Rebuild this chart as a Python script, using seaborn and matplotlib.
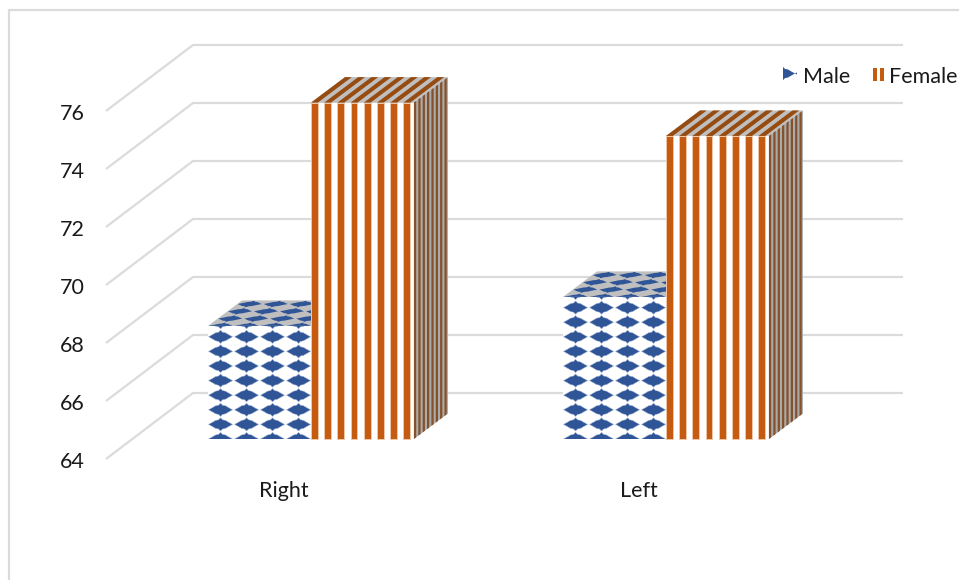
import numpy as np
import pandas as pd
import seaborn as sns
import matplotlib
matplotlib.use("Agg")
import matplotlib.pyplot as plt
from matplotlib.collections import PolyCollection
from matplotlib.lines import Line2D
from matplotlib.patches import Polygon, Rectangle

# Chart values
categories = ["Right", "Left"]
male_values = [67.9, 68.9]
female_values = [75.6, 74.45]
y_ticks = [64, 66, 68, 70, 72, 74, 76]
series_names = ["Male", "Female"]

# Palette
BLUE = "#2F5597"
ORANGE = "#C55A11"
TOP_GRAY = "#BFBFBF"
SIDE_GRAY = "#ABABAB"
TOP_BROWN = "#964B10"
SIDE_BROWN = "#85512A"
GRID = "#DBDBDB"
INK = "#1A1A1A"

sns.set_theme(style="white")
plt.rcParams["font.family"] = ["Lato", "DejaVu Sans"]

W, H = 959, 580
BASE = 64
PX_PER_CAT = 355.0
PX_PER_UNIT = 29.0
ORIGIN_X, ORIGIN_Y = 311.0, 439.0


def xd(px):
    return (px - ORIGIN_X) / PX_PER_CAT


def yd(py):
    return BASE + (ORIGIN_Y - py) / PX_PER_UNIT


# Oblique projection: how far the box depth and the walls shift on screen
DEPTH_X, DEPTH_Y = 34.0 / PX_PER_CAT, 25.5 / PX_PER_UNIT
WALL_FRONT_X, WALL_BACK_X, WALL_END_X = xd(106), xd(193), xd(903)
WALL_FRONT_DY = yd(459) - BASE
WALL_BACK_DY = yd(393) - BASE

# Texture scales
STRIPE_PERIOD, STRIPE_WIDTH = 13.2, 6.8
DIAMOND_DX, DIAMOND_DY = 26.0, 14.6
DIAMOND_SHAPE = np.array([
    (-12, 0), (-8, -2.2), (-5, -4), (-2, -4.6), (0, -6.6), (2, -4.6), (5, -4), (8, -2.2),
    (12, 0), (8, 2.2), (5, 4), (2, 4.6), (0, 6.6), (-2, 4.6), (-5, 4), (-8, 2.2),
])

df = pd.DataFrame({
    "side": categories * 2,
    "group": [series_names[0]] * 2 + [series_names[1]] * 2,
    "value": male_values + female_values,
})

fig = plt.figure(figsize=(W / 100, H / 100), dpi=100, facecolor="white")
ax = fig.add_axes([0, 0, 1, 1])
sns.barplot(
    data=df, x="side", y="value", hue="group", hue_order=series_names,
    order=categories, palette=["white", "white"], width=0.58, gap=0,
    linewidth=0, legend=False, ax=ax, zorder=3,
)
ax.set_xlim(xd(0), xd(W))
ax.set_ylim(yd(H), yd(0))
ax.axis("off")

# Chart frame, open on the right and at the bottom
fig.add_artist(Line2D([9.0 / W, 9.0 / W, 1], [0, 1 - 10.0 / H, 1 - 10.0 / H],
                      color=GRID, lw=1.6, transform=fig.transFigure))

# Back wall and side wall gridlines
for v in y_ticks:
    ax.plot([WALL_FRONT_X, WALL_BACK_X, WALL_END_X],
            [v + WALL_FRONT_DY, v + WALL_BACK_DY, v + WALL_BACK_DY],
            color=GRID, lw=1.6, zorder=1, solid_joinstyle="miter", solid_capstyle="butt")
    ax.text(xd(72.5), v + WALL_FRONT_DY - 2.5 / PX_PER_UNIT, str(v), ha="center", va="center",
            fontsize=15.5, color=INK)


def stripes(origin, u, v, extent, **style):
    """Vertical-band texture over the face spanned by u and v (u runs across the bands)."""
    polys = []
    n_bands = int(np.ceil(extent / STRIPE_PERIOD))
    for k in range(n_bands):
        t0 = min(k * STRIPE_PERIOD / extent, 1)
        t1 = min((k * STRIPE_PERIOD + STRIPE_WIDTH) / extent, 1)
        polys.append([origin + t0 * u, origin + t1 * u, origin + t1 * u + v, origin + t0 * u + v])
    ax.add_collection(PolyCollection(polys, **style))


def diamonds(origin, u, v, u_px, v_px, **style):
    """Diamond tiles on the face spanned by u and v; texture sizes are given in screen pixels."""
    face = Polygon([origin, origin + u, origin + u + v, origin + v], closed=True,
                   transform=ax.transData, facecolor="none", edgecolor="none")
    ax.add_patch(face)
    polys = []
    for i in range(int(v_px / DIAMOND_DY) + 2):
        for j in range(int(u_px / DIAMOND_DX) + 2):
            cu = 12.5 + j * DIAMOND_DX
            cv = i * DIAMOND_DY
            shape = DIAMOND_SHAPE + [cu, cv]
            polys.append([origin + p[0] / u_px * u + p[1] / v_px * v for p in shape])
    coll = PolyCollection(polys, **style)
    ax.add_collection(coll)
    coll.set_clip_path(face)


depth = np.array([DEPTH_X, DEPTH_Y])
for group_index, bars in enumerate(ax.containers):
    z = 4 + group_index
    for bar in bars:
        value = bar.get_height()
        bar.set_y(BASE)
        bar.set_height(value - BASE)
        bar.set_zorder(z)
        x0, w = bar.get_x(), bar.get_width()
        h = value - BASE
        front = np.array([x0, BASE], dtype=float)
        across = np.array([w, 0.0])
        rise = np.array([0.0, h])
        width_px = w * PX_PER_CAT
        height_px = h * PX_PER_UNIT
        top_origin = front + rise
        right_origin = front + across

        # Top and right faces share the front face's band count
        ax.add_patch(Polygon([top_origin, top_origin + across, top_origin + across + depth,
                              top_origin + depth], facecolor=TOP_GRAY, edgecolor="none", zorder=z))
        ax.add_patch(Polygon([right_origin, right_origin + depth, right_origin + depth + rise,
                              right_origin + rise], facecolor=SIDE_GRAY, edgecolor="none", zorder=z))
        if group_index == 0:
            diamonds(front, across, rise, width_px, height_px, facecolors=BLUE,
                     edgecolors="#9DB2D6", linewidths=0.35, zorder=z + 0.1)
            diamonds(top_origin, across, depth, width_px, 2.0 * 25.5,
                     facecolors=BLUE, edgecolors="none", zorder=z + 0.1)
        else:
            stripes(front, across, rise, width_px, facecolors=ORANGE,
                    edgecolors="#EFC7A8", linewidths=0.7, zorder=z + 0.1)
            stripes(top_origin, across, depth, width_px, facecolors=TOP_BROWN,
                    edgecolors="none", zorder=z + 0.1)
            stripes(right_origin, depth, rise, width_px, facecolors=SIDE_BROWN,
                    edgecolors="none", zorder=z + 0.1)

# Category labels
for i, name in enumerate(categories):
    ax.text(i + xd(284), yd(491), name, ha="center", va="center", fontsize=15.5, color=INK)

# Legend keys and labels
male_key = Rectangle((xd(783), yd(81)), xd(797) - xd(783), yd(67) - yd(81),
                     facecolor="none", edgecolor="none")
ax.add_patch(male_key)
key_polys = []
for cx in (783.0, 807.0):
    key_polys.append([(xd(cx + px), yd(73.5 + py)) for px, py in DIAMOND_SHAPE])
male_coll = PolyCollection(key_polys, facecolors=BLUE, edgecolors="none", zorder=6)
ax.add_collection(male_coll)
male_coll.set_clip_path(male_key)
for left in (873.0, 880.0):
    ax.add_patch(Rectangle((xd(left), yd(81)), 3.6 / PX_PER_CAT, 13.5 / PX_PER_UNIT,
                           facecolor=ORANGE, edgecolor="none", zorder=6))
ax.text(xd(803), yd(76.5), series_names[0], ha="left", va="center", fontsize=15.5, color=INK)
ax.text(xd(889), yd(76.5), series_names[1], ha="left", va="center", fontsize=15.5, color=INK)

fig.savefig("out.png", dpi=100, facecolor="white")
